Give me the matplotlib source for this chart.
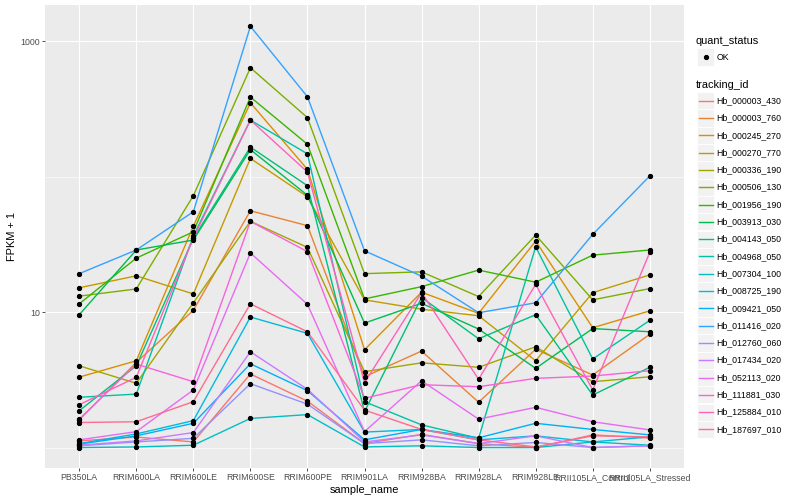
import matplotlib
matplotlib.use("Agg")
import matplotlib.pyplot as plt
from matplotlib.lines import Line2D
from matplotlib.patches import Rectangle
import numpy as np

plt.rcParams['font.family'] = ['Liberation Sans', 'DejaVu Sans']

samples = ["PB350LA", "RRIM600LA", "RRIM600LE", "RRIM600SE", "RRIM600PE",
           "RRIM901LA", "RRIM928BA", "RRIM928LA", "RRIM928LE",
           "RRII105LA_Control", "RRII105LA_Stressed"]

tracking_ids = ["Hb_000003_430", "Hb_000003_760", "Hb_000245_270", "Hb_000270_770",
                "Hb_000336_190", "Hb_000506_130", "Hb_001956_190", "Hb_003913_030",
                "Hb_004143_050", "Hb_004968_050", "Hb_007304_100", "Hb_008725_190",
                "Hb_009421_050", "Hb_011416_020", "Hb_012760_060", "Hb_017434_020",
                "Hb_052113_020", "Hb_111881_030", "Hb_125884_010", "Hb_187697_010"]

colors = ["#F8766D", "#EA8331", "#D89000", "#C09B00", "#A3A500", "#7CAE00", "#39B600",
          "#00BB4E", "#00BF7D", "#00C1A3", "#00BFC4", "#00BAE0", "#00B0F6", "#35A2FF",
          "#9590FF", "#C77CFF", "#E76BF3", "#FA62DB", "#FF62BC", "#FF6C91"]

# FPKM + 1 per sample (same order as samples)
hb_000003_430 = [1.12, 1.195, 1.10, 3.49, 2.20, 1.07, 1.25, 1.07, 1.00, 1.24, 1.175]
hb_000003_760 = [1.60, 4.25, 10.3, 55.9, 43.4, 3.33, 5.15, 2.16, 5.31, 3.43, 6.85]
hb_000245_270 = [3.31, 4.37, 43.1, 350, 113, 5.27, 14.0, 9.78, 33.4, 7.66, 10.2]
hb_000270_770 = [15.1, 18.5, 13.6, 136, 70.9, 12.3, 10.5, 9.39, 4.37, 13.9, 18.8]
hb_000336_190 = [4.01, 2.98, 11.7, 46.7, 30.0, 3.63, 4.22, 3.91, 5.54, 3.06, 3.33]
hb_000506_130 = [13.1, 14.8, 72.2, 635, 272, 19.2, 19.8, 13.0, 37.0, 12.3, 14.9]
hb_001956_190 = [11.5, 25.0, 39.1, 386, 173, 12.5, 15.4, 20.4, 16.6, 26.3, 28.7]
hb_003913_030 = [9.55, 28.7, 34.0, 158, 72.7, 8.29, 11.6, 7.49, 3.84, 7.55, 7.15]
hb_004143_050 = [1.87, 4.01, 34.9, 165, 85.5, 1.84, 12.8, 6.35, 9.55, 2.44, 3.91]
hb_004968_050 = [2.35, 2.48, 36.4, 261, 147, 2.18, 1.47, 1.17, 30.3, 4.50, 8.68]
hb_007304_100 = [1.00, 1.01, 1.04, 1.64, 1.75, 1.01, 1.03, 1.00, 1.00, 1.10, 1.04]
hb_008725_190 = [1.07, 1.26, 1.58, 9.19, 6.96, 1.30, 1.36, 1.14, 1.22, 1.10, 1.20]
hb_009421_050 = [1.06, 1.22, 1.51, 4.15, 2.63, 1.14, 1.36, 1.18, 1.51, 1.36, 1.24]
hb_011416_020 = [19.2, 28.7, 55.0, 1284, 388, 28.3, 18.4, 9.88, 11.7, 37.4, 101]
hb_012760_060 = [1.03, 1.10, 1.17, 2.96, 2.09, 1.07, 1.14, 1.03, 1.09, 1.00, 1.03]
hb_017434_020 = [1.04, 1.12, 1.29, 5.09, 2.69, 1.10, 1.24, 1.07, 1.22, 1.00, 1.03]
hb_052113_020 = [1.14, 1.31, 2.66, 27.3, 11.4, 1.31, 3.11, 1.62, 1.98, 1.55, 1.35]
hb_111881_030 = [1.62, 4.13, 3.06, 46.7, 27.9, 2.31, 2.91, 2.81, 3.24, 3.37, 3.69]
hb_125884_010 = [2.07, 3.30, 35.2, 261, 108, 3.01, 13.9, 3.19, 16.0, 2.66, 27.6]
hb_187697_010 = [1.53, 1.55, 2.18, 11.5, 7.15, 1.89, 1.36, 1.14, 1.01, 1.22, 1.20]

series = [hb_000003_430, hb_000003_760, hb_000245_270, hb_000270_770, hb_000336_190,
          hb_000506_130, hb_001956_190, hb_003913_030, hb_004143_050, hb_004968_050,
          hb_007304_100, hb_008725_190, hb_009421_050, hb_011416_020, hb_012760_060,
          hb_017434_020, hb_052113_020, hb_111881_030, hb_125884_010, hb_187697_010]

W, H = 800, 500
fig = plt.figure(figsize=(W / 100, H / 100), dpi=100)
pl, pr, pt, pb = 45, 684, 5, 468
ax = fig.add_axes([pl / W, 1 - pb / H, (pr - pl) / W, (pb - pt) / H])
ax.set_facecolor("#EBEBEB")
for s in ax.spines.values():
    s.set_visible(False)

x = np.arange(len(samples))
for vals, c in zip(series, colors):
    ax.plot(x, vals, color=c, lw=1.0, zorder=2, solid_capstyle='butt')
for vals in series:
    ax.plot(x, vals, ls='none', marker='o', ms=2.8, color='black', zorder=3)

ax.set_yscale('log')
ax.set_ylim(10 ** -0.151, 10 ** 3.266)
ax.set_xlim(-0.6, len(samples) - 0.4)
ax.set_yticks([10, 1000])
ax.set_yticklabels(["10", "1000"])
ax.set_yticks([1, 100], minor=True)
ax.set_yticklabels([], minor=True)
ax.set_xticks(x)
ax.set_xticklabels(samples)
ax.tick_params(axis='both', which='major', length=2.2, width=0.6, color='#333333',
               labelcolor='#4D4D4D', labelsize=6.3, pad=1.6)
ax.tick_params(axis='y', which='minor', length=0)
ax.grid(True, which='major', color='white', lw=0.85)
ax.grid(True, which='minor', axis='y', color='white', lw=0.4)
ax.set_axisbelow(True)
ax.set_xlabel("sample_name", fontsize=7.9, labelpad=2)
ax.set_ylabel("FPKM + 1", fontsize=7.9, labelpad=2)

# legend (drawn in figure pixel coordinates)
def fx(px):
    return px / W

def fy(py):
    return 1 - py / H

kx0, kw = 697, 17.0
fig.text(fx(696), fy(41), "quant_status", fontsize=7.9, va='center', ha='left')
fig.patches.append(Rectangle((fx(kx0), fy(57 + 8.5)), kw / W, 17 / H, transform=fig.transFigure,
                             facecolor='#F2F2F2', edgecolor='white', lw=0.6))
fig.lines.append(Line2D([fx(kx0 + kw / 2)], [fy(57)], transform=fig.transFigure,
                        marker='o', ms=2.8, color='black', ls='none'))
fig.text(fx(716.5), fy(57), "OK", fontsize=6.3, va='center', ha='left')

fig.text(fx(696), fy(84.5), "tracking_id", fontsize=7.9, va='center', ha='left')
for i, (tid, c) in enumerate(zip(tracking_ids, colors)):
    cy = 100.7 + 17.3 * i
    fig.patches.append(Rectangle((fx(kx0), fy(cy + 8.6)), kw / W, 17.2 / H,
                                 transform=fig.transFigure, facecolor='#F2F2F2',
                                 edgecolor='white', lw=0.6))
    fig.lines.append(Line2D([fx(kx0 + 1.5), fx(kx0 + kw - 1.5)], [fy(cy), fy(cy)],
                            transform=fig.transFigure, color=c, lw=1.0))
    fig.text(fx(716.5), fy(cy), tid, fontsize=6.3, va='center', ha='left')

fig.savefig("out.png", dpi=100)
